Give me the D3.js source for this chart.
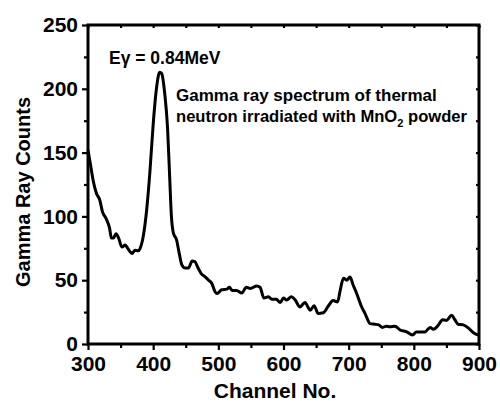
<!DOCTYPE html>
<html>
<head>
<meta charset="utf-8">
<script src="https://cdn.jsdelivr.net/npm/d3@7"></script>
<style>
  html, body { margin: 0; padding: 0; background: #fff; }
  svg text { font-family: "Liberation Sans", Arial, sans-serif; font-weight: bold; fill: #000; }
</style>
</head>
<body>
<div id="chart"></div>
<script>
// Spectrum (channel, counts)
const channels = [300, 304, 308, 313, 318, 322, 328, 333, 336, 339, 343, 347, 352, 357, 361, 365, 368, 372, 377, 380,
  385, 390, 395, 400, 405, 410, 413, 418, 422, 425, 428, 431, 436, 440, 444, 449, 454, 460, 464, 469, 474, 479, 485,
  490, 495, 498, 505, 513, 517, 521, 528, 536, 543, 549, 559, 564, 570, 577, 582, 589, 595, 600, 605, 612, 618, 625,
  633, 641, 647, 653, 661, 669, 676, 683, 687, 692, 697, 702, 707, 712, 720, 725, 733, 740, 746, 752, 758, 763, 771,
  779, 789, 798, 804, 817, 825, 830, 838, 844, 850, 858, 863, 868, 876, 884, 891, 899];
const counts = [152, 140, 128, 118, 113, 104, 98, 91, 83, 83, 86.5, 83, 76, 77.5, 75, 72, 71, 73.5, 73, 75,
  85, 105, 135, 172, 200, 213, 212, 195, 170, 135, 100, 87, 81.5, 71, 62, 59.5, 59.5, 65, 64.5, 59.5, 55, 53, 50,
  47.5, 41, 39.5, 42.5, 43, 44.5, 42, 42, 40, 44.5, 43.5, 45.5, 44.5, 36, 37, 35, 35, 32.5, 36, 34.5, 37, 34.5, 29,
  32.5, 26.5, 30, 24, 24.5, 30, 34, 33, 42, 51.5, 50, 52.5, 46, 40, 29, 24, 16, 15.5, 15, 13, 14, 13.5, 14,
  11, 9.5, 7, 9.5, 9.5, 13, 11.5, 15, 19, 18.5, 22.5, 19, 15.5, 15, 12.5, 9, 7];

const xMajor = [300, 400, 500, 600, 700, 800, 900];
const xMinor = [350, 450, 550, 650, 750, 850];
const yMajor = [0, 50, 100, 150, 200, 250];
const yMinor = [25, 75, 125, 175, 225];

const width = 500, height = 403;
const margin = { left: 88, right: 21, top: 25, bottom: 59 };
const plotW = width - margin.left - margin.right;
const plotH = height - margin.top - margin.bottom;

const svg = d3.select("#chart").append("svg")
  .attr("width", width)
  .attr("height", height);

const x = d3.scaleLinear().domain([300, 900]).range([margin.left, margin.left + plotW]);
const y = d3.scaleLinear().domain([0, 250]).range([margin.top + plotH, margin.top]);

// axes helper: draw ticks then style
function styleAxis(g) {
  g.select(".domain").remove();
  g.selectAll(".tick line").attr("stroke", "#000").attr("stroke-width", 2.2);
  g.selectAll(".tick text").style("font-size", "21px");
}

// bottom
svg.append("g")
  .attr("transform", `translate(0,${margin.top + plotH})`)
  .call(d3.axisBottom(x).tickValues(xMajor).tickSize(6).tickPadding(6).tickFormat(d3.format("d")))
  .call(styleAxis);
svg.append("g")
  .attr("transform", `translate(0,${margin.top + plotH})`)
  .call(d3.axisBottom(x).tickValues(xMinor).tickSize(4).tickFormat(""))
  .call(styleAxis);

// left
svg.append("g")
  .attr("transform", `translate(${margin.left},0)`)
  .call(d3.axisLeft(y).tickValues(yMajor).tickSize(6).tickPadding(4).tickFormat(d3.format("d")))
  .call(styleAxis);
svg.append("g")
  .attr("transform", `translate(${margin.left},0)`)
  .call(d3.axisLeft(y).tickValues(yMinor).tickSize(4).tickFormat(""))
  .call(styleAxis);

// top + right mirror ticks, inward
svg.append("g")
  .attr("transform", `translate(0,${margin.top})`)
  .call(d3.axisBottom(x).tickValues(xMajor.concat(xMinor)).tickSize(3).tickFormat(""))
  .call(styleAxis);
svg.append("g")
  .attr("transform", `translate(${margin.left + plotW},0)`)
  .call(d3.axisLeft(y).tickValues(yMajor.concat(yMinor)).tickSize(3).tickFormat(""))
  .call(styleAxis);

// frame
svg.append("rect")
  .attr("x", margin.left)
  .attr("y", margin.top)
  .attr("width", plotW)
  .attr("height", plotH)
  .attr("fill", "none")
  .attr("stroke", "#000")
  .attr("stroke-width", 3);

// spectrum line
const line = d3.line()
  .x((d, i) => x(channels[i]))
  .y(d => y(d))
  .curve(d3.curveMonotoneX);

svg.append("path")
  .datum(counts)
  .attr("fill", "none")
  .attr("stroke", "#000")
  .attr("stroke-width", 3)
  .attr("stroke-linejoin", "round")
  .attr("d", line);

// axis titles
svg.append("text")
  .attr("x", 275)
  .attr("y", 398)
  .attr("text-anchor", "middle")
  .style("font-size", "21px")
  .text("Channel No.");

svg.append("text")
  .attr("transform", "translate(30,192) rotate(-90)")
  .attr("text-anchor", "middle")
  .style("font-size", "20px")
  .text("Gamma Ray Counts");

// annotations
svg.append("text")
  .attr("x", 109)
  .attr("y", 64)
  .style("font-size", "17.5px")
  .text("Eγ = 0.84MeV");

svg.append("text")
  .attr("x", 176)
  .attr("y", 101)
  .style("font-size", "17px")
  .text("Gamma ray spectrum of thermal");

const note2 = svg.append("text")
  .attr("x", 176)
  .attr("y", 122)
  .style("font-size", "16.6px");
note2.append("tspan").text("neutron irradiated with MnO");
note2.append("tspan").attr("dy", 5).style("font-size", "11px").text("2");
note2.append("tspan").attr("dy", -5).text(" powder");
</script>
</body>
</html>
